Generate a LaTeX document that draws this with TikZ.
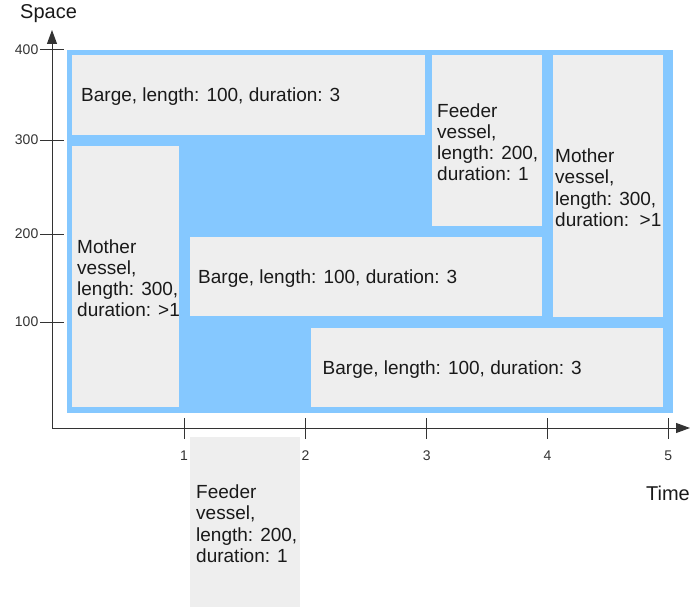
\documentclass[tikz,border=0pt]{standalone}
\usepackage{fontspec}
\setmainfont{Liberation Sans}
\usetikzlibrary{arrows.meta}
\definecolor{quay}{HTML}{85C8FF}
\definecolor{slotgray}{HTML}{EEEEEE}
\definecolor{axisgray}{HTML}{333333}
\tikzset{
  berth/.style={fill=slotgray, draw=none, anchor=north west, inner sep=0pt},
  call/.style={anchor=west, align=left, inner sep=0pt, yshift=-1.5pt,
    font=\fontsize{19}{21.3}\selectfont, text=black!90},
  ticklab/.style={font=\fontsize{14}{16}\selectfont, text=axisgray, inner sep=0pt},
  axislab/.style={font=\fontsize{20}{24}\selectfont, text=black!90, inner sep=0pt},
}
\begin{document}
\begin{tikzpicture}[x=1pt,y=-1pt]
  \useasboundingbox (0,0) rectangle (691,610);
  % quay area
  \fill[quay] (67,50) rectangle (673,413);
  % berth slots
  \node[berth, minimum width=353pt, minimum height=80pt]  (barge1)  at (72,55)  {};
  \node[berth, minimum width=110pt, minimum height=171pt] (feeder1) at (432,55) {};
  \node[berth, minimum width=110pt, minimum height=262pt] (mother1) at (553,55) {};
  \node[berth, minimum width=107pt, minimum height=261pt] (mother2) at (72,146) {};
  \node[berth, minimum width=352pt, minimum height=79pt]  (barge2)  at (190,237) {};
  \node[berth, minimum width=352pt, minimum height=79pt]  (barge3)  at (311,328) {};
  \node[berth, minimum width=110pt, minimum height=170pt] (feeder2) at (190,437) {};
  % texts
  \node[call] (barge1txt)  at ([xshift=9pt]barge1.west)   {Barge, length: 100, duration: 3};
  \node[call] (feeder1txt) at ([xshift=5pt]feeder1.west)  {Feeder\\vessel,\\length: 200,\\duration: 1};
  \node[call] (mother1txt) at ([xshift=2pt]mother1.west)  {Mother\\vessel,\\length: 300,\\duration:\ \ >1};
  \node[call] (mother2txt) at ([xshift=5pt]mother2.west)  {Mother\\vessel,\\length: 300,\\duration: >1};
  \node[call] (barge2txt)  at ([xshift=8pt]barge2.west)   {Barge, length: 100, duration: 3};
  \node[call] (barge3txt)  at ([xshift=11.5pt]barge3.west) {Barge, length: 100, duration: 3};
  \node[call] (feeder2txt) at ([xshift=6pt]feeder2.west)  {Feeder\\vessel,\\length: 200,\\duration: 1};
  % axes
  \coordinate (origin) at (52,428);
  \coordinate (ytip) at (52,30);
  \coordinate (xtip) at (690,428);
  \draw[axisgray, line width=1pt, -{Triangle[length=14pt,width=10pt]}] (origin) -- (ytip);
  \draw[axisgray, line width=1pt, -{Triangle[length=14pt,width=10pt]}] (origin) -- (xtip);
  \foreach \y/\v in {50/400,140/300,234/200,322/100}{
    \draw[axisgray, line width=1pt] (40,\y) -- (64,\y);
    \node[ticklab, anchor=east] at (38.5,\y) {\v};
  }
  \foreach \x/\t in {184/1,305.5/2,426.7/3,547.5/4,668.3/5}{
    \draw[axisgray, line width=1pt] (\x,418) -- (\x,439);
    \node[ticklab] at (\x,456) {\t};
  }
  \node[axislab, anchor=base west] (spacelab) at (20,19) {Space};
  \node[axislab, anchor=base east] (timelab) at (690,500) {Time};
\end{tikzpicture}
\end{document}
